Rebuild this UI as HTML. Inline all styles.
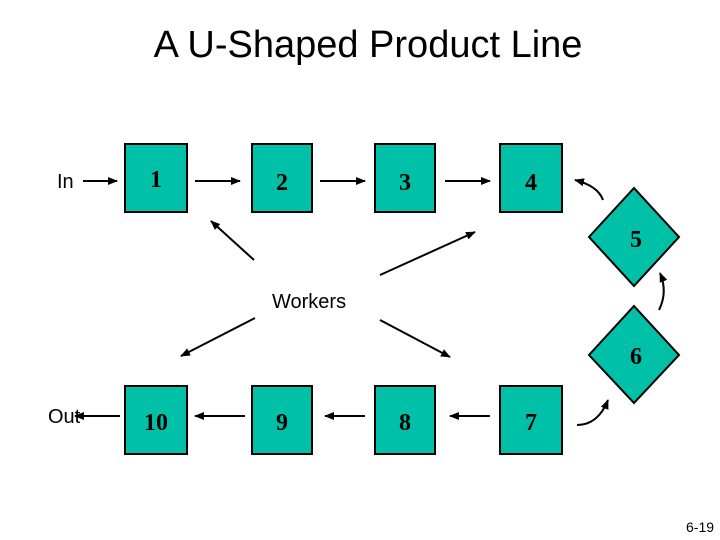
<!DOCTYPE html>
<html><head><style>
body{margin:0;width:720px;height:540px;background:#fff;overflow:hidden;position:relative}
svg{position:absolute;left:0;top:0}
</style></head><body>
<svg width="720" height="540" viewBox="0 0 720 540">
<defs><marker id="a" markerWidth="10" markerHeight="8" refX="9" refY="4" orient="auto" markerUnits="userSpaceOnUse"><path d="M0,0 L10,4 L0,8 z" fill="#000"/></marker></defs>
<text x="368" y="57" font-family="Liberation Sans, sans-serif" font-size="38" text-anchor="middle" fill="#000">A U-Shaped Product Line</text>
<g fill="#00C0A8" stroke="#000" stroke-width="2">
<rect x="125" y="144" width="62" height="68"/><rect x="252" y="144" width="60" height="68"/>
<rect x="375" y="144" width="60" height="68"/><rect x="500" y="144" width="62" height="68"/>
<rect x="125" y="386" width="62" height="68"/><rect x="252" y="386" width="60" height="68"/>
<rect x="375" y="386" width="60" height="68"/><rect x="500" y="386" width="62" height="68"/>
<polygon points="634,188 679,237 634,286 589,237"/>
<polygon points="634,306 679,355 634,403 589,355"/>
</g>
<g font-family="Liberation Serif, serif" font-weight="bold" font-size="24" text-anchor="middle" fill="#000">
<text x="156" y="187">1</text><text x="282" y="190">2</text><text x="405" y="190">3</text><text x="531" y="190">4</text>
<text x="636" y="247">5</text><text x="636" y="364">6</text>
<text x="156" y="430">10</text><text x="282" y="430">9</text><text x="405" y="430">8</text><text x="531" y="430">7</text>
</g>
<g font-family="Liberation Sans, sans-serif" font-size="20" fill="#000">
<text x="57" y="188">In</text><text x="48" y="423">Out</text><text x="272" y="308">Workers</text>
<text x="686" y="532" font-size="14">6-19</text>
</g>
<g stroke="#000" stroke-width="2" fill="none" marker-end="url(#a)">
<line x1="83" y1="181" x2="117" y2="181"/><line x1="195" y1="181" x2="240" y2="181"/>
<line x1="320" y1="181" x2="365" y2="181"/><line x1="445" y1="181" x2="490" y2="181"/>
<line x1="120" y1="416" x2="75" y2="416"/><line x1="245" y1="416" x2="195" y2="416"/>
<line x1="365" y1="416" x2="325" y2="416"/><line x1="490" y1="416" x2="450" y2="416"/>
<path d="M603,200 Q598,186 575,180"/><path d="M659,310 Q668,292 660,273"/>
<path d="M577,425 Q598,425 608,400"/>
<line x1="254" y1="260" x2="211" y2="221"/><line x1="380" y1="275" x2="475" y2="232"/>
<line x1="255" y1="318" x2="181" y2="356"/><line x1="380" y1="320" x2="450" y2="357"/>
</g>
</svg>
</body></html>
